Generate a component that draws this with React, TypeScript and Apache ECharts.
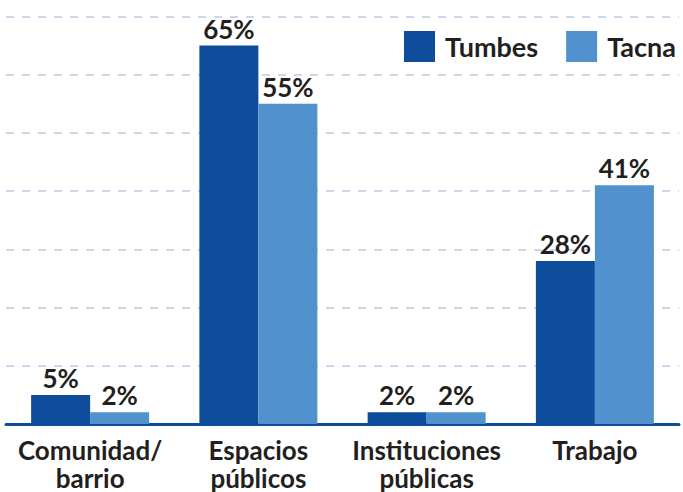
import React, { useEffect, useRef } from "react";
import * as echarts from "echarts";

const categories = ["Comunidad/\nbarrio", "Espacios\npúblicos", "Instituciones\npúblicas", "Trabajo"];
const seriesNames = ["Tumbes", "Tacna"];
const tumbesValues = [5, 65, 2, 28];
const tacnaValues = [2, 55, 2, 41];
const colors = ["#0e4d9b", "#5091ce"];
const textColor = "#231f20";
const fontFamily = "Lato, 'Open Sans', sans-serif";

export default function App() {
  const ref = useRef<HTMLDivElement>(null);
  useEffect(() => {
    if (!ref.current) return;
    const chart = echarts.init(ref.current, undefined, { renderer: "svg" });
    const label = {
      show: true,
      position: "top" as const,
      distance: 4,
      formatter: "{c}%",
      color: textColor,
      fontSize: 26,
      fontWeight: "bold" as const,
      fontFamily,
    };
    chart.setOption({
      animation: false,
      grid: { left: 6, right: 4, top: 16.5, bottom: 63.5, containLabel: false },
      legend: {
        data: seriesNames,
        orient: "horizontal",
        left: 404,
        top: 31,
        width: 300,
        padding: 0,
        itemWidth: 31,
        itemHeight: 31,
        itemGap: 28,
        icon: "rect",
        textStyle: {
          color: textColor,
          fontSize: 27,
          fontWeight: "bold",
          fontFamily,
          padding: [0, 0, 0, 5],
        },
      },
      xAxis: {
        type: "category",
        data: categories,
        axisLine: { show: true, lineStyle: { color: colors[0], width: 3 } },
        axisTick: { show: false },
        axisLabel: {
          color: textColor,
          fontSize: 26,
          fontWeight: "bold",
          fontFamily,
          lineHeight: 28,
          margin: 12,
          interval: 0,
        },
      },
      yAxis: {
        type: "value",
        min: 0,
        max: 70,
        interval: 10,
        axisLabel: { show: false },
        axisLine: { show: false },
        axisTick: { show: false },
        splitLine: {
          show: true,
          lineStyle: { color: "#ccd6ec", width: 2, type: [8, 8] },
        },
      },
      series: [
        {
          name: seriesNames[0],
          type: "bar",
          data: tumbesValues,
          barWidth: 59,
          barGap: "0%",
          itemStyle: { color: colors[0] },
          label,
        },
        {
          name: seriesNames[1],
          type: "bar",
          data: tacnaValues,
          barWidth: 59,
          barGap: "0%",
          itemStyle: { color: colors[1] },
          label,
        },
      ],
    });
    return () => chart.dispose();
  }, []);
  return <div ref={ref} style={{ width: 683, height: 492, position: "absolute", left: 0, top: 0 }} />;
}
